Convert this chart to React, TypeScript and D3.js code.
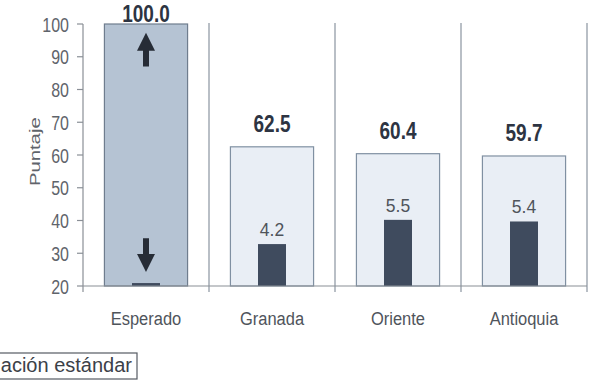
import * as d3 from "d3";
import { useEffect, useRef } from "react";

// datos del gráfico
const categories = ["Esperado", "Granada", "Oriente", "Antioquia"];
const scores = [100.0, 62.5, 60.4, 59.7];
const scoreLabels = ["100.0", "62.5", "60.4", "59.7"];
const stdBars = [20.9, 32.8, 40.2, 39.7];
const stdLabels = ["", "4.2", "5.5", "5.4"];
const yTicks = [20, 30, 40, 50, 60, 70, 80, 90, 100];
const legendLabel = "Desviación estándar";

export default function App() {
  const svgRef = useRef<SVGSVGElement>(null);

  useEffect(() => {
    render();
  }, []);

  const render = () => {
    const width = 591;
    const height = 386;
    const svg = d3.select(svgRef.current).attr("width", width).attr("height", height);
    svg.selectAll("*").remove();

    const font = "'Liberation Sans', Arial, sans-serif";

    const x = d3.scaleBand().domain(categories).range([83, 587]).paddingInner(0).paddingOuter(0);
    const y = d3.scaleLinear().domain([20, 100]).range([286, 24]);
    const bw = x.bandwidth();

    // separadores verticales
    svg
      .append("g")
      .selectAll("line")
      .data(categories)
      .join("line")
      .attr("x1", (d) => x(d)! + bw)
      .attr("x2", (d) => x(d)! + bw)
      .attr("y1", 23)
      .attr("y2", y(20) + 6)
      .attr("stroke", "#8a94a0")
      .attr("stroke-width", 1.2);

    // barras de puntaje
    svg
      .append("g")
      .selectAll("rect")
      .data(categories)
      .join("rect")
      .attr("x", (d) => x(d)! + bw * 0.17)
      .attr("width", bw * 0.66)
      .attr("y", (d, i) => y(scores[i]))
      .attr("height", (d, i) => y(20) - y(scores[i]))
      .attr("fill", (d, i) => (i === 0 ? "#b5c3d3" : "#e9eef5"))
      .attr("stroke", (d, i) => (i === 0 ? "#6f7d8e" : "#8090a2"))
      .attr("stroke-width", 1.2);

    // barras de desviación
    svg
      .append("g")
      .selectAll("rect")
      .data(categories)
      .join("rect")
      .attr("x", (d) => x(d)! + bw / 2 - 14)
      .attr("width", 28)
      .attr("y", (d, i) => y(stdBars[i]))
      .attr("height", (d, i) => y(20) - y(stdBars[i]))
      .attr("fill", "#3f4b5e");

    // flechas en "Esperado"
    const cx = x(categories[0])! + bw / 2;
    const arrow = (tip: number, base: number) => {
      const dir = Math.sign(base - tip);
      const head = tip + dir * 18;
      const p = d3.path();
      p.moveTo(cx, tip);
      p.lineTo(cx + 9, head);
      p.lineTo(cx + 3, head);
      p.lineTo(cx + 3, base);
      p.lineTo(cx - 3, base);
      p.lineTo(cx - 3, head);
      p.lineTo(cx - 9, head);
      p.closePath();
      svg.append("path").attr("d", p.toString()).attr("fill", "#262c36");
    };
    arrow(y(97.3), y(87));
    arrow(y(24.3), y(34.6));

    // ejes
    svg
      .append("line")
      .attr("x1", 83)
      .attr("x2", 587)
      .attr("y1", y(20))
      .attr("y2", y(20))
      .attr("stroke", "#8a8f96")
      .attr("stroke-width", 1.2);
    svg
      .append("line")
      .attr("x1", 83)
      .attr("x2", 83)
      .attr("y1", y(100))
      .attr("y2", y(20) + 6)
      .attr("stroke", "#8a8f96")
      .attr("stroke-width", 1.2);
    svg
      .append("g")
      .selectAll("line")
      .data(yTicks)
      .join("line")
      .attr("x1", 77)
      .attr("x2", 83)
      .attr("y1", (d) => y(d))
      .attr("y2", (d) => y(d))
      .attr("stroke", "#8a8f96")
      .attr("stroke-width", 1.2);

    const txt = (
      gx: number,
      gy: number,
      s: string,
      size: number,
      anchor: string,
      color: string,
      weight = "normal",
      tf = "scale(1,1)"
    ) => {
      svg
        .append("g")
        .attr("transform", `translate(${gx},${gy})`)
        .append("text")
        .attr("transform", tf)
        .attr("text-anchor", anchor)
        .attr("font-family", font)
        .attr("font-size", size)
        .attr("font-weight", weight)
        .attr("fill", color)
        .text(s);
    };

    // etiquetas del eje y
    yTicks.forEach((t) => txt(69, y(t) + 7.5, String(t), 16, "end", "#5f646b", "normal", "scale(1,1.3)"));
    txt(40, y(61), "Puntaje", 14.5, "middle", "#5f646b", "normal", "rotate(-90) scale(1.4,1)");

    // categorías
    categories.forEach((c) =>
      txt(x(c)! + bw / 2, 325, c, 16.5, "middle", "#4f545b", "normal", "scale(1,1.1)")
    );

    // valores
    scores.forEach((v, i) =>
      txt(
        x(categories[i])! + bw / 2,
        Math.max(22, y(v) - 15),
        scoreLabels[i],
        19,
        "middle",
        "#2d3442",
        "bold",
        "scale(1,1.3)"
      )
    );
    stdLabels.forEach((s, i) => {
      if (s) txt(x(categories[i])! + bw / 2, y(stdBars[i]) - 8, s, 17.5, "middle", "#4f545b");
    });

    // leyenda (recortada)
    svg
      .append("rect")
      .attr("x", -10)
      .attr("y", 353)
      .attr("width", 147)
      .attr("height", 26)
      .attr("fill", "#fff")
      .attr("stroke", "#555b63")
      .attr("stroke-width", 1.2);
    txt(132, 372, legendLabel, 20, "end", "#3c4148");
  };

  return (
    <svg ref={svgRef} style={{ position: "absolute", left: 0, top: 0, background: "#fff" }}></svg>
  );
}
